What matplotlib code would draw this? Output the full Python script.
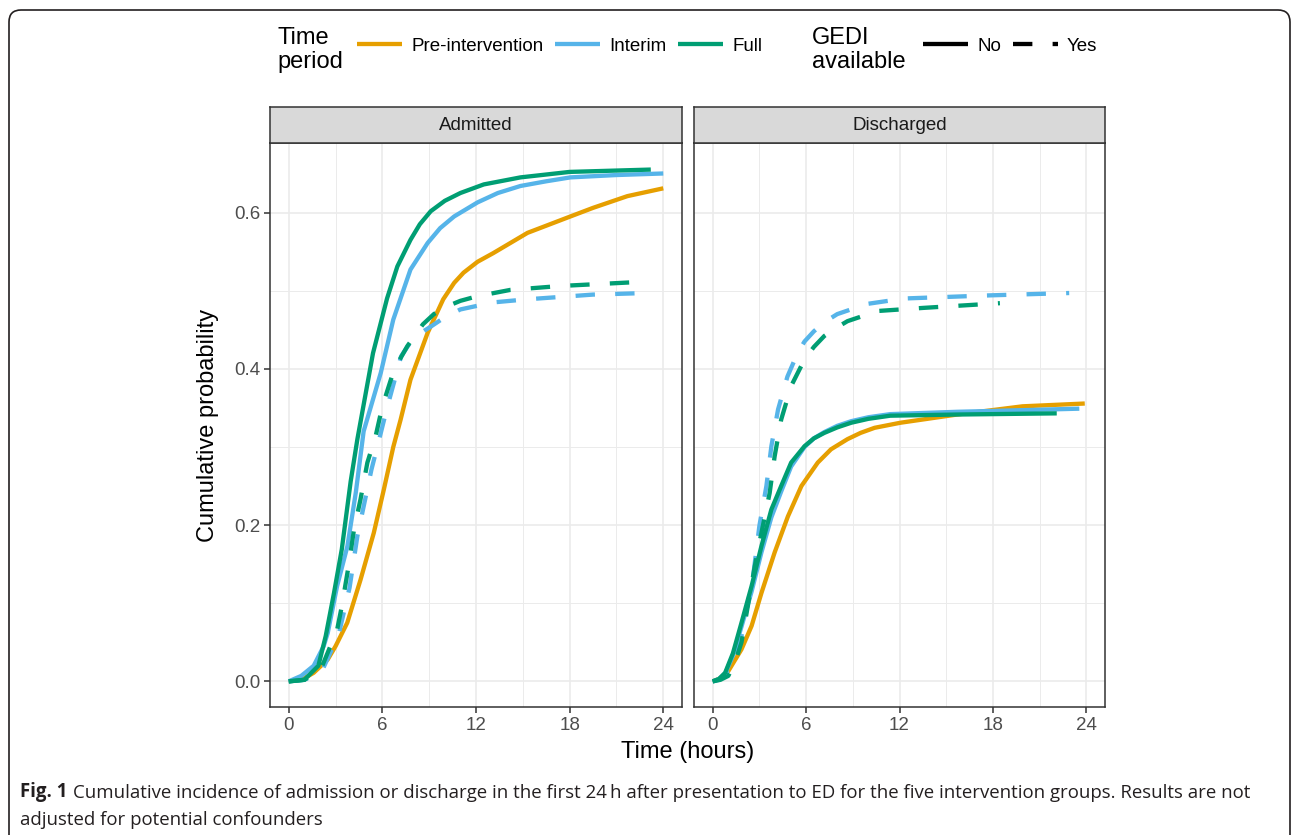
import matplotlib
matplotlib.use("Agg")
import matplotlib.pyplot as plt
from matplotlib.lines import Line2D
from matplotlib.patches import FancyBboxPatch
from matplotlib.text import Annotation
from matplotlib.transforms import IdentityTransform

# ---------------- data ----------------
panels = ["Admitted", "Discharged"]
period_labels = ["Pre-intervention", "Interim", "Full"]
gedi_labels = ["No", "Yes"]
x_ticks = [0, 6, 12, 18, 24]
y_ticks = [0.0, 0.2, 0.4, 0.6]
y_tick_labels = ["0.0", "0.2", "0.4", "0.6"]

# Admitted
adm_pre_no_t = [0, 1, 1.6, 2.5, 3, 3.75, 4.6, 5.45, 6.1, 6.7, 7.17, 7.8, 8.9, 9.9, 10.6, 11.2, 12.1, 13.1, 15.3, 18.05, 19.5, 21.7, 24]
adm_pre_no_p = [0, 0.004, 0.011, 0.028, 0.045, 0.075, 0.13, 0.19, 0.246, 0.30, 0.335, 0.386, 0.446, 0.489, 0.510, 0.523, 0.537, 0.548, 0.574, 0.595, 0.606, 0.621, 0.631]

adm_interim_no_t = [0, 0.8, 1.6, 2.24, 2.5, 3.1, 3.76, 4.3, 4.8, 5.9, 6.7, 7.8, 8.9, 9.7, 10.6, 12.1, 13.4, 14.85, 16.5, 18.05, 21, 24]
adm_interim_no_p = [0, 0.007, 0.02, 0.045, 0.062, 0.122, 0.173, 0.242, 0.32, 0.395, 0.463, 0.527, 0.561, 0.580, 0.595, 0.613, 0.625, 0.634, 0.640, 0.645, 0.648, 0.65]

adm_interim_yes_t = [0, 1, 2.1, 3.2, 3.9, 4.4, 5.3, 5.9, 6.3, 7.2, 8.0, 9.1, 10.0, 11.0, 13.1, 15.3, 19.5, 22.9]
adm_interim_yes_p = [0, 0.002, 0.012, 0.06, 0.12, 0.186, 0.271, 0.318, 0.35, 0.416, 0.44, 0.454, 0.466, 0.476, 0.485, 0.489, 0.495, 0.497]

adm_full_no_t = [0, 1, 1.9, 2.37, 2.9, 3.4, 3.97, 4.4, 5.4, 6.3, 6.96, 7.8, 8.4, 9.1, 10.0, 11.0, 12.5, 14.85, 18.0, 23.2]
adm_full_no_p = [0, 0.002, 0.02, 0.058, 0.113, 0.169, 0.256, 0.31, 0.42, 0.49, 0.531, 0.565, 0.585, 0.6017, 0.615, 0.625, 0.636, 0.645, 0.652, 0.655]

adm_full_yes_t = [0, 1, 2.05, 3.1, 3.4, 3.83, 4.18, 4.6, 5.04, 5.57, 6.0, 6.75, 7.6, 8.6, 9.3, 10.15, 11.0, 12.1, 14.2, 17.4, 22.3]
adm_full_yes_p = [0, 0.002, 0.015, 0.066, 0.096, 0.147, 0.194, 0.233, 0.28, 0.314, 0.352, 0.399, 0.429, 0.457, 0.470, 0.48, 0.487, 0.493, 0.501, 0.506, 0.511]

# Discharged
dis_pre_no_t = [0, 0.5, 1.0, 1.85, 2.5, 3.13, 3.98, 4.83, 5.7, 6.75, 7.6, 8.66, 9.5, 10.4, 12.06, 15.7, 19.9, 23.9]
dis_pre_no_p = [0, 0.004, 0.013, 0.041, 0.071, 0.113, 0.165, 0.211, 0.25, 0.28, 0.297, 0.31, 0.318, 0.3245, 0.331, 0.3415, 0.352, 0.3556]

dis_interim_no_t = [0, 0.4, 0.8, 1.3, 1.85, 2.5, 3.13, 3.77, 4.4, 5.04, 5.9, 6.5, 7.17, 8.0, 8.9, 10.0, 11.4, 15.7, 17.8, 23.55]
dis_interim_no_p = [0, 0.003, 0.01, 0.033, 0.07, 0.115, 0.165, 0.21, 0.243, 0.275, 0.3, 0.311, 0.319, 0.327, 0.333, 0.338, 0.342, 0.345, 0.346, 0.349]

dis_interim_yes_t = [0, 0.4, 0.77, 1.3, 1.85, 2.6, 3.0, 3.45, 3.77, 4.2, 4.8, 5.45, 5.9, 6.5, 7.2, 8.0, 9.9, 12.3, 17.8, 22.9]
dis_interim_yes_p = [0, 0.002, 0.007, 0.025, 0.058, 0.135, 0.199, 0.25, 0.301, 0.348, 0.39, 0.42, 0.435, 0.448, 0.46, 0.47, 0.483, 0.49, 0.494, 0.497]

dis_full_no_t = [0, 0.4, 0.8, 1.3, 1.85, 2.5, 3.13, 3.77, 4.4, 5.04, 5.9, 6.5, 7.17, 8.0, 8.9, 10.0, 11.4, 15.7, 22.1]
dis_full_no_p = [0, 0.003, 0.011, 0.036, 0.075, 0.122, 0.173, 0.22, 0.25, 0.28, 0.301, 0.311, 0.318, 0.325, 0.331, 0.336, 0.34, 0.3415, 0.343]

dis_full_yes_t = [0, 0.5, 1.0, 1.4, 1.85, 2.7, 3.13, 3.66, 3.98, 4.4, 5.04, 5.9, 6.5, 7.17, 7.9, 8.66, 10.6, 13.55, 18.45]
dis_full_yes_p = [0, 0.002, 0.007, 0.022, 0.05, 0.147, 0.19, 0.241, 0.288, 0.335, 0.378, 0.412, 0.428, 0.442, 0.452, 0.461, 0.474, 0.478, 0.484]

caption_bold = "Fig. 1"
caption_line1 = ("Cumulative incidence of admission or discharge in the first 24\u2009h after "
                 "presentation to ED for the five intervention groups. Results are not")
caption_line2 = "adjusted for potential confounders"

# ---------------- style ----------------
COLORS = {"Pre-intervention": "#E69F00", "Interim": "#56B4E9", "Full": "#009E73"}
LW = 3.1
DASH = (4.5, 4.7)
GRID = "#EBEBEB"
DARK = "#333333"
TICKC = "#4D4D4D"
SANS = ["Liberation Sans", "DejaVu Sans"]
plt.rcParams["font.family"] = SANS

W, H = 1292, 835
fig = plt.figure(figsize=(W / 100, H / 100), dpi=100)


def fx(px):
    return px / W


def fy(py):
    return 1 - py / H


series = {
    "Admitted": [
        ("Pre-intervention", "No", adm_pre_no_t, adm_pre_no_p),
        ("Interim", "No", adm_interim_no_t, adm_interim_no_p),
        ("Interim", "Yes", adm_interim_yes_t, adm_interim_yes_p),
        ("Full", "No", adm_full_no_t, adm_full_no_p),
        ("Full", "Yes", adm_full_yes_t, adm_full_yes_p),
    ],
    "Discharged": [
        ("Pre-intervention", "No", dis_pre_no_t, dis_pre_no_p),
        ("Interim", "No", dis_interim_no_t, dis_interim_no_p),
        ("Interim", "Yes", dis_interim_yes_t, dis_interim_yes_p),
        ("Full", "No", dis_full_no_t, dis_full_no_p),
        ("Full", "Yes", dis_full_yes_t, dis_full_yes_p),
    ],
}

panel_px = {"Admitted": (270, 682), "Discharged": (694, 1105)}
top_px, bot_px = 143, 707
strip_h = 36

for i, name in enumerate(panels):
    x0, x1 = panel_px[name]
    ax = fig.add_axes([fx(x0), fy(bot_px), (x1 - x0) / W, (bot_px - top_px) / H])
    ax.set_xlim(-1.2, 25.2)
    ax.set_ylim(-0.0328, 0.689)
    ax.set_xticks(x_ticks)
    ax.set_xticks([3, 9, 15, 21], minor=True)
    ax.set_yticks(y_ticks)
    ax.set_yticks([0.1, 0.3, 0.5], minor=True)
    ax.grid(which="major", color=GRID, lw=1.2, zorder=0)
    ax.grid(which="minor", color=GRID, lw=0.7, zorder=0)
    ax.set_axisbelow(True)
    for sp in ax.spines.values():
        sp.set_color(DARK)
        sp.set_linewidth(1.1)
    ax.tick_params(which="minor", length=0)
    ax.tick_params(axis="x", which="major", length=4, width=1.1, color=DARK,
                   labelsize=13.5, labelcolor=TICKC, pad=3)
    if i == 0:
        ax.set_yticklabels(y_tick_labels)
        ax.tick_params(axis="y", which="major", length=4, width=1.1, color=DARK,
                       labelsize=13.5, labelcolor=TICKC, pad=3)
    else:
        ax.tick_params(axis="y", which="major", length=0, labelleft=False)
    for period, gedi, t, p in series[name]:
        ls = "-" if gedi == "No" else (0, DASH)
        ax.plot(t, p, color=COLORS[period], lw=LW, linestyle=ls,
                solid_capstyle="butt", dash_capstyle="butt", solid_joinstyle="round")

    # strip
    sax = fig.add_axes([fx(x0), fy(top_px), (x1 - x0) / W, strip_h / H])
    sax.set_facecolor("#D9D9D9")
    sax.set_xticks([])
    sax.set_yticks([])
    for sp in sax.spines.values():
        sp.set_color(DARK)
        sp.set_linewidth(1.1)
    sax.text(0.5, 0.5, name, ha="center", va="center", fontsize=13.5,
             color="#1A1A1A", transform=sax.transAxes)

# axis titles
fig.text(fx(688), fy(752), "Time (hours)", ha="center", va="center", fontsize=17)
fig.text(fx(208), fy(425), "Cumulative probability", ha="center", va="center",
         fontsize=17, rotation=90)

# legends
fig.text(fx(277), fy(50), "Time\nperiod", ha="left", va="center", fontsize=17,
         linespacing=1.12)
fig.text(fx(812), fy(50), "GEDI\navailable", ha="left", va="center", fontsize=17,
         linespacing=1.12)

period_handles = [Line2D([], [], color=COLORS[k], lw=LW, solid_capstyle="butt")
                  for k in period_labels]
leg1 = fig.legend(period_handles, period_labels, loc="center left",
                  bbox_to_anchor=(fx(357), fy(46)), frameon=False, ncol=3,
                  fontsize=13.5, handlelength=2.4, handletextpad=0.5,
                  columnspacing=0.6, borderpad=0, borderaxespad=0)
gedi_handles = [Line2D([], [], color="black", lw=LW, solid_capstyle="butt"),
                Line2D([], [], color="black", lw=LW, linestyle=(0, DASH),
                       dash_capstyle="butt")]
leg2 = fig.legend(gedi_handles, gedi_labels, loc="center left",
                  bbox_to_anchor=(fx(923), fy(46)), frameon=False, ncol=2,
                  fontsize=13.5, handlelength=2.4, handletextpad=0.5,
                  columnspacing=0.6, borderpad=0, borderaxespad=0)

# caption
CAP = ["Open Sans", "DejaVu Sans"]
cap_size = 13.45
tb = fig.text(fx(20), fy(797), caption_bold, ha="left", va="baseline",
              fontsize=cap_size, fontweight="bold", family=CAP, color="#231F20")
ann = Annotation(caption_line1, xy=(1, 0), xycoords=tb, xytext=(4, 0),
                 textcoords="offset points", ha="left", va="bottom",
                 fontsize=cap_size, family=CAP, color="#231F20")
fig.add_artist(ann)
fig.text(fx(20), fy(825), caption_line2, ha="left", va="baseline",
         fontsize=cap_size, family=CAP, color="#231F20")

# rounded frame
frame = FancyBboxPatch((9, -40), 1281, 825 + 40, boxstyle="round,pad=0,rounding_size=12",
                       transform=IdentityTransform(), fill=False,
                       edgecolor="#231F20", lw=1.2)
fig.patches.append(frame)
frame.set_figure(fig)

fig.savefig("out.png", dpi=100)
